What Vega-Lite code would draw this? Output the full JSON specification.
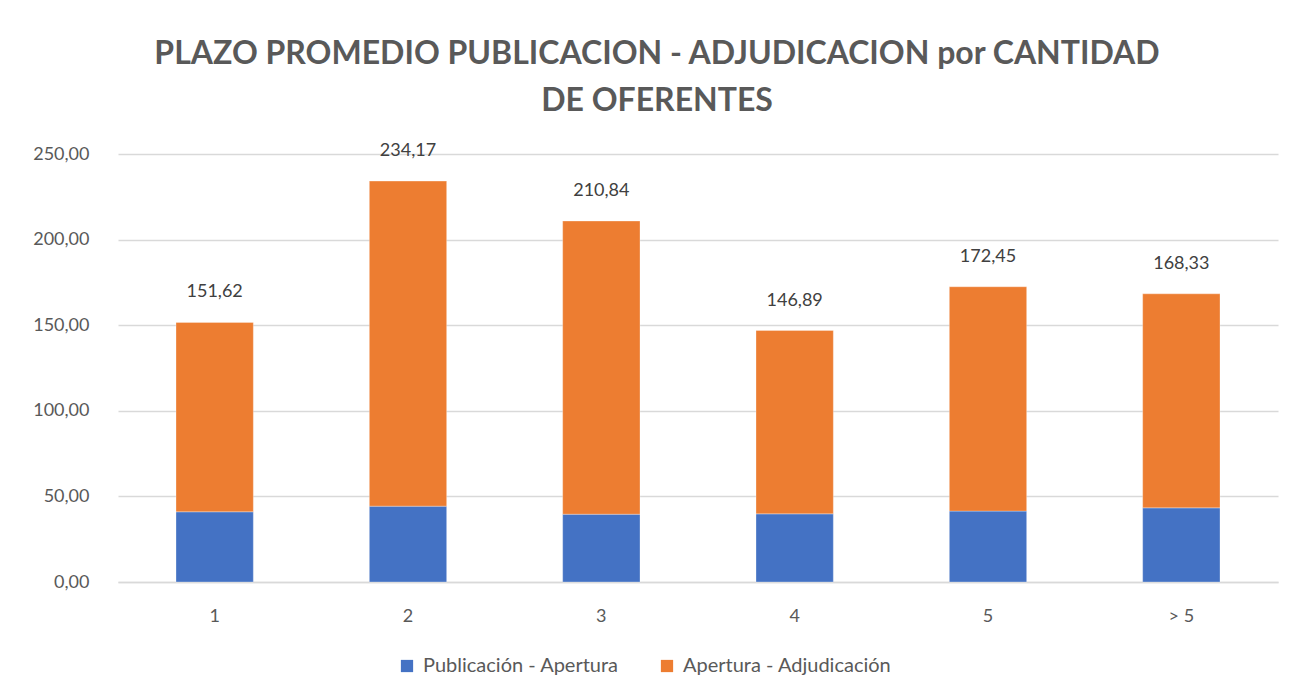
{
  "$schema": "https://vega.github.io/schema/vega-lite/v6.json",
  "width": 1160,
  "height": 428,
  "padding": {"left": 18, "top": 38, "right": 28, "bottom": 10},
  "background": "white",
  "config": {
    "locale": {"number": {"decimal": ",", "thousands": ".", "grouping": [3], "currency": ["", " €"]}},
    "font": "Lato",
    "view": {"stroke": null}
  },
  "title": {
    "text": ["PLAZO PROMEDIO PUBLICACION - ADJUDICACION por CANTIDAD", "DE OFERENTES"],
    "font": "Lato",
    "fontSize": 32,
    "fontWeight": "bold",
    "color": "#595959",
    "anchor": "middle",
    "frame": "group",
    "dx": -41,
    "lineHeight": 47,
    "offset": 24
  },
  "data": {
    "values": [
      {"oferentes": "1", "tramo": "Publicación - Apertura", "dias": 41.0},
      {"oferentes": "1", "tramo": "Apertura - Adjudicación", "dias": 110.62},
      {"oferentes": "2", "tramo": "Publicación - Apertura", "dias": 44.3},
      {"oferentes": "2", "tramo": "Apertura - Adjudicación", "dias": 189.87},
      {"oferentes": "3", "tramo": "Publicación - Apertura", "dias": 39.6},
      {"oferentes": "3", "tramo": "Apertura - Adjudicación", "dias": 171.24},
      {"oferentes": "4", "tramo": "Publicación - Apertura", "dias": 39.8},
      {"oferentes": "4", "tramo": "Apertura - Adjudicación", "dias": 107.09},
      {"oferentes": "5", "tramo": "Publicación - Apertura", "dias": 41.4},
      {"oferentes": "5", "tramo": "Apertura - Adjudicación", "dias": 131.05},
      {"oferentes": "> 5", "tramo": "Publicación - Apertura", "dias": 43.3},
      {"oferentes": "> 5", "tramo": "Apertura - Adjudicación", "dias": 125.03}
    ]
  },
  "encoding": {
    "x": {
      "field": "oferentes",
      "type": "nominal",
      "sort": null,
      "scale": {"paddingInner": 0.6, "paddingOuter": 0.3},
      "axis": {
        "title": null,
        "labelAngle": 0,
        "labelFont": "Lato",
        "labelFontSize": 18,
        "labelColor": "#595959",
        "labelPadding": 25,
        "ticks": false,
        "domainColor": "#d9d9d9",
        "domainWidth": 1.5
      }
    }
  },
  "layer": [
    {
      "mark": {"type": "bar", "stroke": "white", "strokeWidth": 0.5, "strokeOpacity": 0.6},
      "encoding": {
        "y": {
          "field": "dias",
          "type": "quantitative",
          "aggregate": "sum",
          "stack": "zero",
          "scale": {"domain": [0, 250], "nice": false},
          "axis": {
            "title": null,
            "values": [0, 50, 100, 150, 200, 250],
            "format": ",.2f",
            "labelFont": "Lato",
            "labelFontSize": 18,
            "labelColor": "#595959",
            "labelPadding": 29,
            "ticks": false,
            "domain": false,
            "gridColor": "#d9d9d9",
            "gridWidth": 1.5,
            "minExtent": 100,
            "maxExtent": 100
          }
        },
        "color": {
          "field": "tramo",
          "type": "nominal",
          "sort": ["Publicación - Apertura", "Apertura - Adjudicación"],
          "scale": {
            "domain": ["Publicación - Apertura", "Apertura - Adjudicación"],
            "range": ["#4472C4", "#ED7D31"]
          },
          "legend": {
            "title": null,
            "orient": "none",
            "legendX": 279,
            "legendY": 502,
            "direction": "horizontal",
            "symbolType": "square",
            "symbolSize": 150,
            "symbolStrokeWidth": 0,
            "labelFont": "Lato",
            "labelFontSize": 20,
            "labelColor": "#595959",
            "labelLimit": 0,
            "labelOffset": 6,
            "columnPadding": 38
          }
        }
      }
    },
    {
      "mark": {"type": "text", "baseline": "bottom", "dy": -21, "font": "Lato", "fontSize": 18, "color": "#404040"},
      "encoding": {
        "y": {"field": "dias", "type": "quantitative", "aggregate": "sum"},
        "text": {"field": "dias", "type": "quantitative", "aggregate": "sum", "format": ",.2f"}
      }
    }
  ]
}
